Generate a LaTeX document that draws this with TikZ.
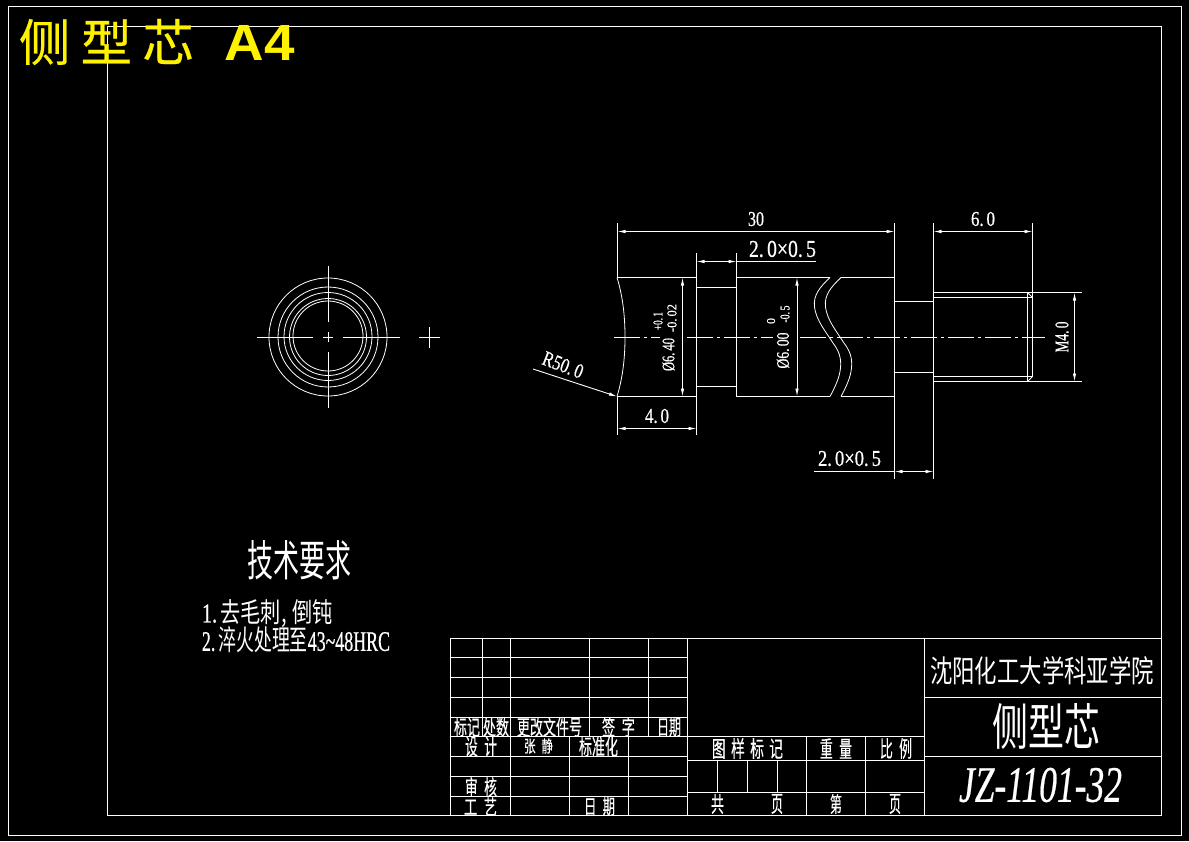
\documentclass[tikz,border=0pt]{standalone}
\usepackage{fontspec}
\usepackage{graphicx}
\setmainfont{Liberation Serif}[FakeBold=0.6,AutoFakeBold=0.6]
\newfontfamily\dimf{Liberation Serif}[FakeBold=0.7,AutoFakeBold=0.7]
\newfontfamily\cjk{Noto Sans CJK SC}
\newfontfamily\cjkb{Noto Sans CJK SC}[FakeBold=0.5,AutoFakeBold=0.5]
\newfontfamily\hd{Liberation Sans}
\usetikzlibrary{arrows.meta}
\tikzset{
 cad/.style={white,line width=0.95pt,line cap=butt},
 thin cad/.style={white,line width=0.8pt},
 dimline/.style={white,line width=0.9pt,{Latex[length=8pt,width=3.5pt]}-{Latex[length=8pt,width=3.5pt]}},
 leader/.style={white,line width=0.9pt,-{Latex[length=8pt,width=3.5pt]}},
 center line/.style={white,line width=0.9pt,dash pattern=on 26pt off 4pt on 3pt off 4pt},
 lbl/.style={inner sep=0pt,outer sep=0pt,white},
}
% box-fitted text: name, x0, y0, x1, y1, text
\newcommand{\fitt}[7][white]{%
 \pgfmathsetmacro{\cw}{#5-#3}\pgfmathsetmacro{\ch}{#6-#4}%
 \pgfmathsetmacro{\cx}{(#3+#5)/2}\pgfmathsetmacro{\cy}{(#4+#6)/2}%
 \node[lbl,text=#1] (#2) at (\cx,\cy) {\resizebox{\cw pt}{\ch pt}{#7}};}
% rotated fitted text: name, cx, cy, length, thickness, angle, text
\newcommand{\rott}[7]{%
 \node[lbl,rotate=#6] (#1) at (#2,#3) {\resizebox{#4pt}{#5pt}{\dimf #7}};}
\begin{document}
\begin{tikzpicture}[x=1pt,y=-1pt]
\fill[black] (0,0) rectangle (1189,841);
\useasboundingbox (0,0) rectangle (1189,841);
% frames
\draw[cad] (8,6.5) rectangle (1181,835);
\draw[cad] (107,26.5) rectangle (1161.5,815.5);
% title block
\draw[cad] (450,638.5) rectangle (1161.5,815.5);
\foreach \y in {657.5,677.5,697.5,717.5,736.5} \draw[cad] (450,\y) -- (687.5,\y);
\foreach \x in {482,510,589,648} \draw[cad] (\x,638.5) -- (\x,736.5);
\foreach \y in {756.5,776.5,796.5} \draw[cad] (450,\y) -- (687.5,\y);
\draw[cad] (510,736.5) -- (510,815.5);
\foreach \x in {569,628} \draw[cad] (\x,736.5) -- (\x,815.5);
\draw[cad] (687.5,638.5) -- (687.5,815.5);
\draw[cad] (924.5,638.5) -- (924.5,815.5);
\draw[cad] (687.5,736.5) -- (924.5,736.5);
\draw[cad] (687.5,760.5) -- (924.5,760.5);
\draw[cad] (687.5,792.5) -- (924.5,792.5);
\foreach \x in {806.5,865.5} \draw[cad] (\x,736.5) -- (\x,815.5);
\foreach \x in {717.5,747.5,777} \draw[cad] (\x,760.5) -- (\x,792.5);
\draw[cad] (924.5,697.5) -- (1161.5,697.5);
\draw[cad] (924.5,756.5) -- (1161.5,756.5);
% end view
\foreach \r/\cy in {59/337,50/337,44/336.5,38.5/337,35/336} \draw[thin cad] (328,\cy) circle (\r);
\draw[cad] (257,337.5) -- (313,337.5) (323,337.5) -- (333,337.5) (343,337.5) -- (400,337.5);
\draw[cad] (328.5,266) -- (328.5,322) (328.5,332) -- (328.5,342) (328.5,352) -- (328.5,408);
\draw[cad] (419,337.5) -- (440,337.5) (429.5,327) -- (429.5,348);
% shaft
\draw[cad] (617,277.5) -- (696,277.5) (617,396.5) -- (696,396.5);
\draw[cad] (696,287.5) -- (736,287.5) (696,386.5) -- (736,386.5);
\draw[cad] (736,277.5) -- (830,277.5) (736,396.5) -- (830,396.5);
\draw[cad] (841,277.5) -- (894,277.5) (841,396.5) -- (894,396.5);
\draw[cad] (736.5,253) -- (736.5,396.5);
\draw[cad] (696.5,253) -- (696.5,435);
\draw[cad] (617.5,223) -- (617.5,277.5) (617.5,396.5) -- (617.5,435);
\draw[thin cad] (617,277.5) .. controls (623,297) and (625,317) .. (625,337) .. controls (625,357) and (623,377) .. (617,396.5);
\draw[cad] (894.5,223) -- (894.5,479);
\draw[cad] (933.5,223) -- (933.5,479);
\draw[cad] (894,301.5) -- (933,301.5) (894,372.5) -- (933,372.5);
% break curves
\draw[thin cad] (830,277.5) .. controls (820,287) and (813,295) .. (814.5,307) .. controls (816,320) and (826,332) .. (833,343) .. controls (839,351) and (841.5,358) .. (840.5,368) .. controls (839.5,378) and (835,387) .. (830,396.5);
\draw[thin cad] (841,277.5) .. controls (831,287) and (824,295) .. (825.5,307) .. controls (827,320) and (837,332) .. (844,343) .. controls (850,351) and (852.5,358) .. (851.5,368) .. controls (850.5,378) and (846,387) .. (841,396.5);
% thread
\draw[cad] (933,292.5) -- (1082,292.5) (933,381.5) -- (1082,381.5);
\draw[cad] (933,297.5) -- (1032,297.5) (933,376.5) -- (1032,376.5);
\draw[cad] (1027.5,292.5) -- (1027.5,381.5);
\draw[cad] (1032.5,223) -- (1032.5,376.5) -- (1027.5,381.5);
\draw[thin cad] (1027.5,292.5) -- (1032.5,297.5);
% centre line
\draw[center line] (614,337.5) -- (660,337.5);
\draw[center line] (687,337.5) -- (773,337.5);
\draw[center line] (800,337.5) -- (1045,337.5);
% dimensions
\draw[dimline] (617.5,231.5) -- (894.5,231.5);
\draw[dimline] (933.5,231.5) -- (1032.5,231.5);
\draw[dimline] (696.5,261.5) -- (736.5,261.5);
\draw[cad] (736.5,261.5) -- (816,261.5);
\draw[dimline] (617.5,428.5) -- (696.5,428.5);
\draw[dimline] (682.5,277.5) -- (682.5,396.5);
\draw[dimline] (797,277.5) -- (797,396.5);
\draw[dimline] (1074.5,292.5) -- (1074.5,381.5);
\draw[dimline] (894.5,471.5) -- (933.5,471.5);
\draw[cad] (814,471.5) -- (894.5,471.5);
\coordinate (leadstart) at (533,369);
\coordinate (leadend) at (617,396.5);
\draw[leader] (leadstart) -- (leadend);
% dimension text
\fitt{d30}{748}{212}{764}{226}{\dimf 30}
\fitt{d60}{971}{212}{995}{226}{\dimf 6.\,0}
\fitt{d20a}{749}{241}{816}{257}{\dimf 2.\,0×0.\,5}
\fitt{d20b}{818}{451}{881}{466}{\dimf 2.\,0×0.\,5}
\fitt{d40}{645}{409}{669}{423}{\dimf 4.\,0}
\rott{r50}{563}{365}{42}{14}{-21}{R50.\,0}
\rott{m40}{1062}{337}{31}{13}{90}{M4.\,0}
\rott{dia64}{668.5}{354.5}{33}{12}{90}{Ø6.\,40}
\rott{tol64a}{658}{321}{18}{9}{90}{+0.\,1}
\rott{tol64b}{672}{318}{28}{9}{90}{-0.\,02}
\rott{dia60}{783}{350.5}{36}{12}{90}{Ø6.\,00}
\rott{tol60a}{771}{321}{6}{8}{90}{0}
\rott{tol60b}{785}{314}{17}{9}{90}{-0.\,5}
% notes
\fitt{reqt}{247}{542}{351}{578}{\cjk 技术要求}
\fitt{req1}{202}{602}{333}{625}{\dimf 1.\,\cjk 去毛刺,\hspace{.3em}倒钝}
\fitt{req2}{202}{628}{390}{652}{\dimf 2.\,\cjk 淬火处理至\dimf 43\char`~48HRC}
% title block text
\fitt{t1}{454}{718}{480}{736}{\cjkb 标记}
\fitt{t2}{483}{718}{509}{736}{\cjkb 处数}
\fitt{t3}{517}{718}{582}{736}{\cjkb 更改文件号}
\fitt{t4}{602}{718}{635}{736}{\cjkb 签\enspace 字}
\fitt{t5}{657}{718}{681}{736}{\cjkb 日期}
\fitt{t6}{465}{737}{497}{756}{\cjkb 设\enspace 计}
\fitt{t7}{524}{739}{553}{753}{\cjkb 张\enspace 静}
\fitt{t8}{579}{737}{618}{756}{\cjkb 标准化}
\fitt{t9}{465}{778}{497}{796}{\cjkb 审\enspace 核}
\fitt{t10}{464}{798}{497}{815}{\cjkb 工\enspace 艺}
\fitt{t11}{584}{798}{615}{815}{\cjkb 日\enspace 期}
\fitt{t12}{712}{739}{783}{758}{\cjkb 图\hspace{.4em}样\hspace{.4em}标\hspace{.4em}记}
\fitt{t13}{820}{739}{852}{758}{\cjkb 重\enspace 量}
\fitt{t14}{880}{739}{912}{758}{\cjkb 比\enspace 例}
\fitt{t15}{711}{795}{724}{813}{\cjkb 共}
\fitt{t16}{771}{795}{783}{813}{\cjkb 页}
\fitt{t17}{830}{795}{842}{813}{\cjkb 第}
\fitt{t18}{889}{795}{901}{813}{\cjkb 页}
\fitt{school}{930}{658}{1154}{684}{\cjk 沈阳化工大学科亚学院}
\fitt{part}{992}{705}{1100}{747}{\cjk 侧型芯}
\fitt{code}{959}{768}{1122}{802}{\itshape JZ-1101-32}
% header
\fitt[yellow]{head}{19}{21}{194}{63}{\cjkb 侧\hspace{.2em}型\hspace{.2em}芯}
\fitt[yellow]{heada}{225}{25}{295}{60}{\hd\bfseries A4}
\end{tikzpicture}
\end{document}
